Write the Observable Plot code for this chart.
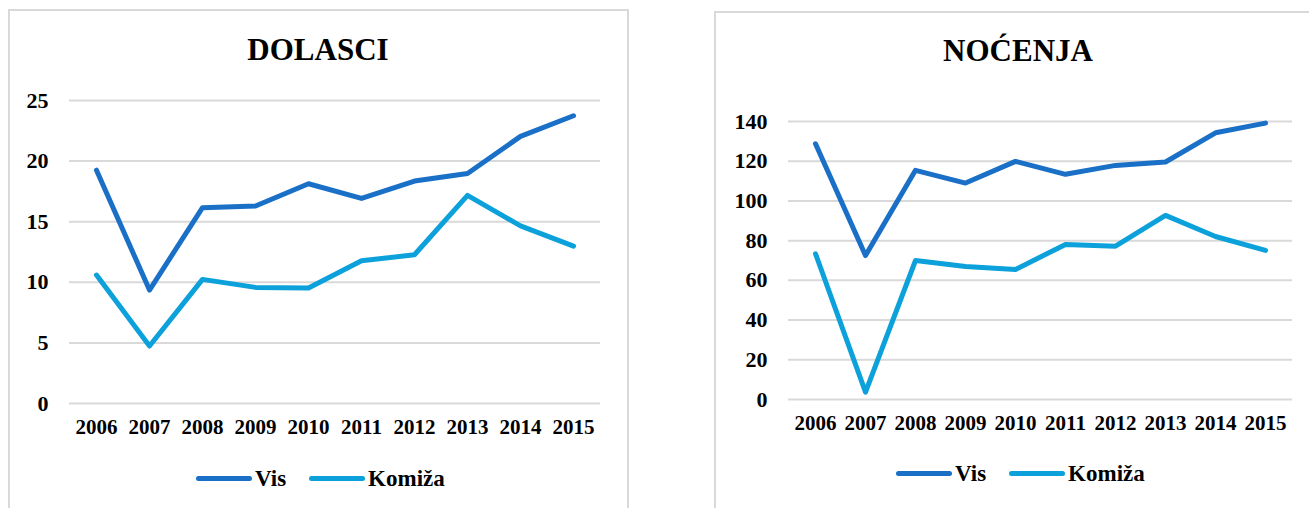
<!DOCTYPE html>
<html>
<head>
<meta charset="utf-8">
<script src="https://cdn.jsdelivr.net/npm/d3@7"></script>
<script src="https://cdn.jsdelivr.net/npm/@observablehq/plot@0.6"></script>
<style>
  html, body { margin: 0; padding: 0; background: #fff; }
  body { width: 1309px; height: 508px; position: relative; overflow: hidden;
         font-family: "Liberation Serif", "Times New Roman", serif; font-weight: bold; color: #000; }
  .panel { position: absolute; box-sizing: border-box; border: 2px solid #d9d9d9; background: #fff; }
  .title { position: absolute; font-size: 31px; line-height: 31px; text-align: center; white-space: nowrap; }
  .chart { position: absolute; }
  .chart svg, .chart svg text { font-family: "Liberation Serif", "Times New Roman", serif !important; font-weight: bold !important; }
  .legend { position: absolute; display: flex; align-items: center; font-size: 23px; line-height: 23px; height: 23px; white-space: nowrap; }
  .item { display: flex; align-items: center; }
  .sw { display: inline-block; width: 56px; height: 5px; border-radius: 3px; margin-right: 3px; }
</style>
</head>
<body>
<div class="panel" style="left:8px; top:9px; width:621px; height:520px;"></div>
<div class="panel" style="left:714px; top:11px; width:700px; height:520px;"></div>
<div class="title" id="t1" style="left:218px; width:200px; top:34px;"></div>
<div class="title" id="t2" style="left:918px; width:200px; top:35px;"></div>
<div class="chart" id="c1" style="left:0px; top:70px;"></div>
<div class="chart" id="c2" style="left:700px; top:90px;"></div>
<div class="legend" id="l1" style="left:196px; top:467px;"></div>
<div class="legend" id="l2" style="left:896px; top:462px;"></div>
<script>
const years = ["2006","2007","2008","2009","2010","2011","2012","2013","2014","2015"];
const seriesNames = ["Vis", "Komiža"];
const seriesColors = ["#1a6fc6", "#0ca1da"];

const dolasciVis    = [19.25, 9.36, 16.16, 16.29, 18.13, 16.92, 18.35, 18.98, 22.04, 23.74];
const dolasciKomiza = [10.6, 4.74, 10.24, 9.58, 9.53, 11.77, 12.27, 17.17, 14.65, 12.98];
const dolasciTicks  = [0, 5, 10, 15, 20, 25];

const nocenjaVis    = [128.8, 72.5, 115.4, 109.0, 119.9, 113.4, 117.9, 119.6, 134.3, 139.2];
const nocenjaKomiza = [73.4, 3.7, 70.0, 67.0, 65.5, 78.1, 77.2, 92.7, 82.1, 75.1];
const nocenjaTicks  = [0, 20, 40, 60, 80, 100, 120, 140];

const titles = ["DOLASCI", "NOĆENJA"];
const FONT = "Liberation Serif";

function rows(a, b) {
  const out = [];
  years.forEach((y, i) => out.push({year: y, value: a[i], series: seriesNames[0]}));
  years.forEach((y, i) => out.push({year: y, value: b[i], series: seriesNames[1]}));
  return out;
}

function chart(data, ticks, opts) {
  return Plot.plot({
    width: opts.width, height: opts.height,
    marginLeft: opts.ml, marginRight: opts.mr, marginTop: opts.mt, marginBottom: opts.mb,
    style: {fontFamily: FONT, fontSize: "21px", fontWeight: "bold", color: "#000", background: "transparent", overflow: "visible"},
    x: {type: "point", domain: years, padding: 0.5, label: null},
    y: {domain: [ticks[0], ticks[ticks.length - 1]], label: null},
    color: {domain: seriesNames, range: seriesColors},
    marks: [
      Plot.gridY(ticks, {stroke: "#d9d9d9", strokeOpacity: 1, strokeWidth: 2}),
      Plot.axisY(ticks, {tickSize: 0, tickPadding: 21, label: null, fontWeight: "bold", fontFamily: FONT, fontSize: 22}),
      Plot.axisX({tickSize: 0, tickPadding: opts.xpad, label: null, fontWeight: "bold", fontFamily: FONT, fontSize: 21}),
      Plot.line(data, {x: "year", y: "value", z: "series", stroke: "series", strokeWidth: 5, strokeLinecap: "round", strokeLinejoin: "round"})
    ]
  });
}

document.getElementById("c1").appendChild(chart(rows(dolasciVis, dolasciKomiza), dolasciTicks,
  {width: 630, height: 380, ml: 69, mr: 30, mt: 30, mb: 47, xpad: 16}));
document.getElementById("c2").appendChild(chart(rows(nocenjaVis, nocenjaKomiza), nocenjaTicks,
  {width: 609, height: 360, ml: 88, mr: 17, mt: 31, mb: 51, xpad: 16}));

document.getElementById("t1").textContent = titles[0];
document.getElementById("t2").textContent = titles[1];

function legend(el) {
  seriesNames.forEach((name, i) => {
    const item = document.createElement("span");
    item.className = "item";
    if (i > 0) item.style.marginLeft = "23px";
    const sw = document.createElement("span");
    sw.className = "sw";
    sw.style.background = seriesColors[i];
    item.appendChild(sw);
    const t = document.createElement("span");
    t.textContent = name;
    item.appendChild(t);
    el.appendChild(item);
  });
}
legend(document.getElementById("l1"));
legend(document.getElementById("l2"));
</script>
</body>
</html>
